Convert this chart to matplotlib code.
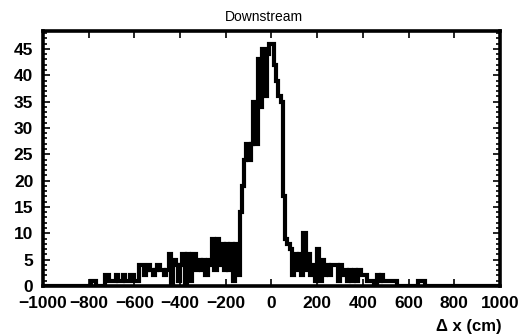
import numpy as np
import matplotlib
matplotlib.use("Agg")
import matplotlib.pyplot as plt
from matplotlib.ticker import MultipleLocator

# histogram: 200 bins of 10 cm from -1000 to 1000
x_lo, x_hi, bin_w = -1000, 1000, 10

counts_neg = [
    # -1000 .. -810
    0, 0, 0, 0, 0, 0, 0, 0, 0, 0, 0, 0, 0, 0, 0, 0, 0, 0, 0, 0,
    # -800 .. -610
    0, 1, 1, 0, 0, 0, 0, 2, 2, 1, 1, 1, 2, 1, 1, 2, 1, 1, 2, 2,
    # -600 .. -410
    1, 1, 4, 4, 2, 3, 4, 3, 2, 3, 4, 3, 3, 2, 3, 6, 0, 5, 4, 1,
    # -400 .. -210
    4, 6, 0, 6, 1, 6, 6, 3, 5, 3, 5, 2, 5, 4, 9, 3, 9, 4, 8, 3,
    # -200 .. -10
    8, 3, 8, 1, 8, 2, 14, 19, 24, 27, 24, 27, 35, 27, 43, 34, 45, 36, 44, 46,
]
counts_pos = [
    # 0 .. 190
    46, 42, 39, 36, 35, 17, 9, 8, 7, 2, 6, 3, 6, 2, 10, 3, 6, 2, 4, 1,
    # 200 .. 390
    7, 1, 5, 2, 4, 2, 4, 4, 4, 1, 4, 2, 3, 1, 3, 1, 3, 1, 3, 2,
    # 400 .. 590
    2, 2, 1, 1, 1, 0, 2, 1, 2, 1, 1, 1, 1, 1, 1, 0, 0, 0, 0, 0,
    # 600 .. 790
    0, 0, 0, 0, 1, 1, 1, 0, 0, 0, 0, 0, 0, 0, 0, 0, 0, 0, 0, 0,
    # 800 .. 990
    0, 0, 0, 0, 0, 0, 0, 0, 0, 0, 0, 0, 0, 0, 0, 0, 0, 0, 0, 0,
]
counts = np.array(counts_neg + counts_pos)
edges = np.arange(x_lo, x_hi + bin_w, bin_w)

title = "Downstream"
xlabel = "\u0394 x (cm)"

plt.rcParams['font.family'] = ['Liberation Sans', 'DejaVu Sans']

fig = plt.figure(figsize=(5.2, 3.35), dpi=100)
ax = fig.add_axes([0.0827, 0.1463, 0.8788, 0.7612])

ax.stairs(counts, edges, color='black', linewidth=3.0)

ax.set_xlim(x_lo, x_hi)
ax.set_ylim(0, 48.4)

ax.xaxis.set_major_locator(MultipleLocator(200))
ax.yaxis.set_major_locator(MultipleLocator(5))
ax.yaxis.set_minor_locator(MultipleLocator(1))

ax.tick_params(which='both', direction='in', top=True, right=True, width=1.2)
ax.tick_params(which='major', length=5)
ax.tick_params(which='minor', length=2.8)
ax.tick_params(axis='y', pad=7)
ax.tick_params(axis='x', pad=7)
for lab in ax.get_xticklabels() + ax.get_yticklabels():
    lab.set_fontsize(12.5)
    lab.set_fontweight('bold')

for s in ax.spines.values():
    s.set_linewidth(2.6)

fig.text(264 / 520, 1 - 17 / 335, title, ha='center', va='center', fontsize=10)
fig.text(502 / 520, 1 - 326 / 335, xlabel, ha='right', va='center',
         fontsize=12, fontweight='bold')

fig.savefig("out.png", dpi=100)
